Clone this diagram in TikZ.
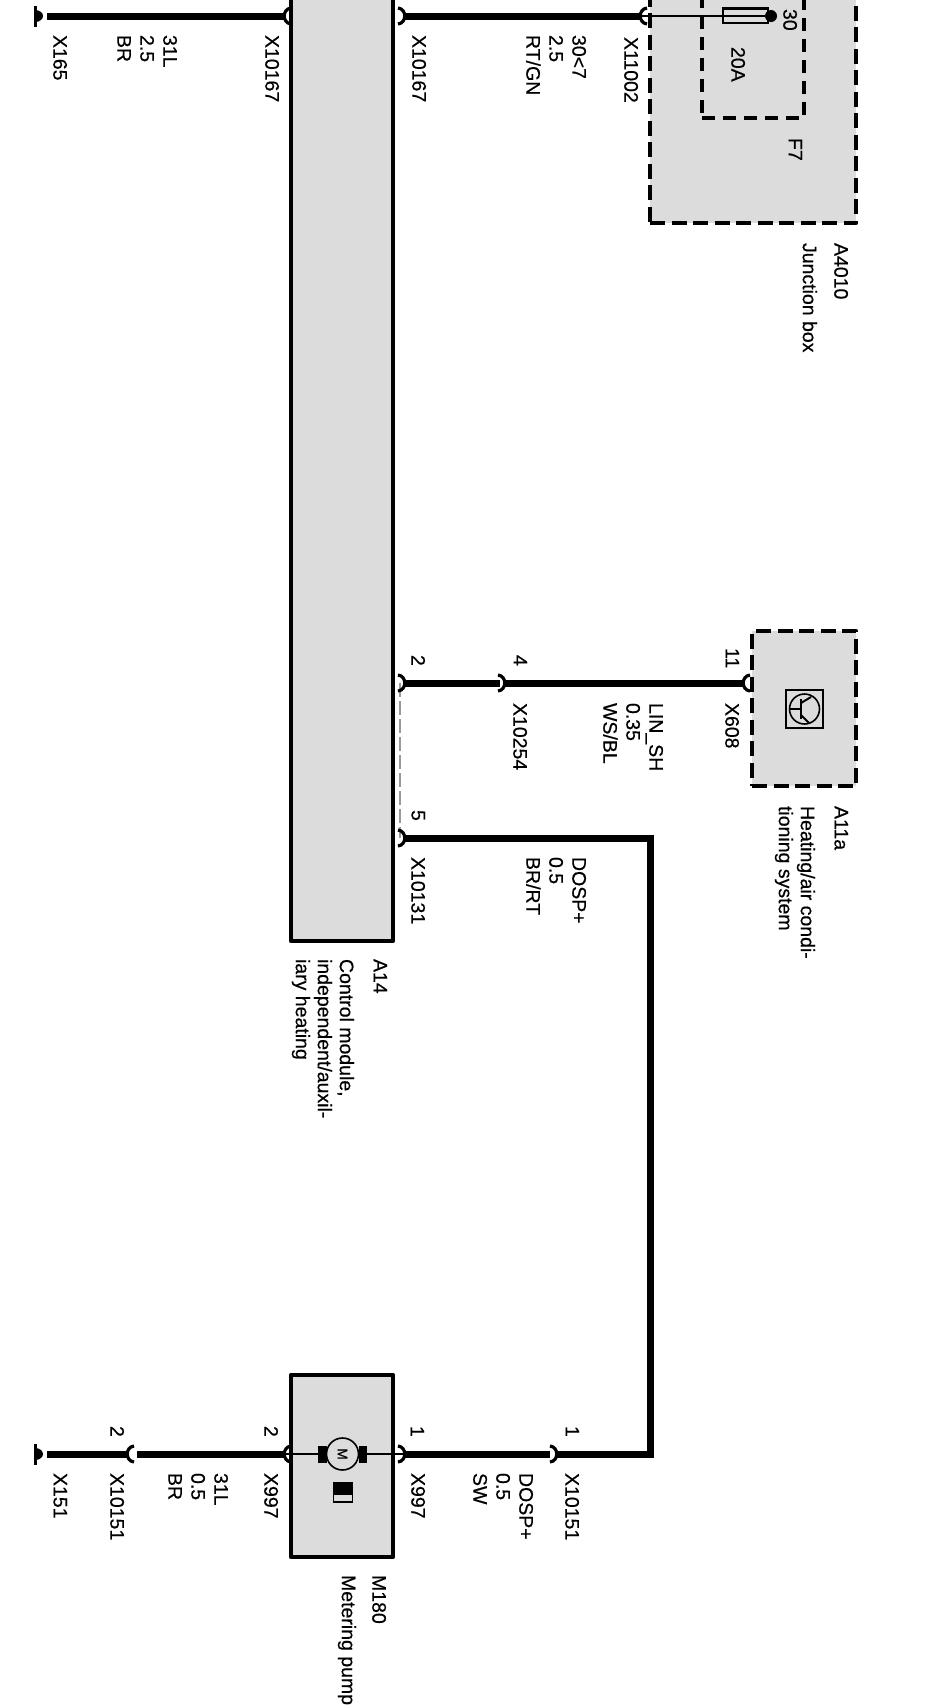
\documentclass[tikz,border=0pt]{standalone}
\usepackage{fontspec}
\setmainfont{Liberation Sans}[FakeBold=0.5]
\usetikzlibrary{calc}
\definecolor{boxgray}{HTML}{DCDCDC}
\tikzset{
  lab/.style={rotate=-90,anchor=north west,inner sep=0pt,outer sep=0pt,align=left,text=black,
    font=\fontsize{19.5}{23}\selectfont},
  labtight/.style={lab,font=\fontsize{19.5}{22}\selectfont},
  wire/.style={line width=7pt,black},
  thinwire/.style={line width=1.6pt,black},
  pinmark/.style={line width=3.2pt,black},
  solidbox/.style={draw=black,fill=boxgray,line width=4.8pt,rectangle,anchor=north west,outer sep=0pt,inner sep=0pt,line join=round},
  dashbox/.style={solidbox,dash pattern=on 15pt off 6.5pt},
  innerbox/.style={draw=black,line width=4pt,rectangle,anchor=north west,outer sep=0pt,inner sep=0pt,dash pattern=on 13pt off 8pt},
}
\newcommand{\pinmk}[4]{\coordinate (#1) at (#2,#3);
  \draw[pinmark,shift={(#1)},xscale=#4] (-7,-8) .. controls (2,-7) and (2,7) .. (-7,8);}
\newcommand{\gndmk}[3]{\coordinate (#1) at (#2,#3);
  \draw[line width=3pt,shift={(#1)}] (-2,-10) -- (-2,11);
  \fill[shift={(#1)}] (-2,-6) .. controls (3,-6) and (6,-3) .. (6,0) .. controls (6,3) and (3,6) .. (-2,6) -- cycle;}
\begin{document}
\begin{tikzpicture}[x=1pt,y=-1pt]
\useasboundingbox (0,0) rectangle (930,1706);
\clip (0,0) rectangle (930,1706);
\fill[white] (0,0) rectangle (930,1706);

% gray bridge
\coordinate (brA) at (400,683);
\coordinate (brB) at (400,838);
\draw[line width=2.6pt,draw=gray!80,dash pattern=on 14pt off 4pt] (brA) -- (brB);

% boxes
\node[solidbox,minimum width=102pt,minimum height=961pt] (a14) at (291,-20) {};
\node[dashbox,minimum width=206pt,minimum height=243pt] (a4010) at (650,-20) {};
\node[innerbox,minimum width=102pt,minimum height=138pt] (f7) at (702,-20) {};
\node[dashbox,minimum width=104pt,minimum height=155pt] (a11a) at (752,631) {};
\node[solidbox,minimum width=102pt,minimum height=182pt] (m180) at (291,1375) {};

% pins and ground
\gndmk{gndA}{37}{16}
\gndmk{gndB}{37}{1454}
\pinmk{pA}{284}{16}{-1}
\pinmk{pB}{405}{16}{1}
\pinmk{pC}{640}{16}{-1}
\pinmk{pD}{405}{683}{1}
\pinmk{pE}{505}{683}{1}
\pinmk{pF}{743}{683}{-1}
\pinmk{pG}{405}{838}{1}
\pinmk{pH}{557}{1454}{1}
\pinmk{pI}{405}{1454}{1}
\pinmk{pJ}{284}{1454}{-1}
\pinmk{pK}{127}{1454}{-1}
\coordinate (corA) at (650,838);
\coordinate (corB) at (650,1454);

% wires
\draw[wire,shorten <=10pt] (gndA) -- (pA);
\draw[wire] (pB) -- (pC);
\draw[wire,shorten >=5pt] (pD) -- (pE);
\draw[wire] (pE) -- (pF);
\draw[wire,line join=miter] (pG) -- (corA) -- (corB) -- (pH);
\draw[wire,shorten <=7pt] (pH) -- (pI);
\draw[wire,shorten >=10pt] (pJ) -- (pK);
\draw[wire,shorten <=10pt] (gndB) -- (pK);

% fuse
\node[draw=black,fill=boxgray,line width=1.6pt,rectangle,minimum width=45pt,minimum height=15pt,inner sep=0pt,outer sep=0pt,anchor=north west] (fuse) at (723,8) {};
\coordinate (fuseEnd) at (771,16);
\draw[thinwire] (pC) -- (fuseEnd);
\draw[line width=3pt] (fuse.north west) -- (fuse.north east);
\fill (fuseEnd) circle (6);

% transistor
\node[draw=black,line width=2pt,rectangle,minimum width=37pt,minimum height=38pt,inner sep=0pt,outer sep=0pt] (tr) at (804.5,709) {};
\draw[line width=1.6pt] (tr.center) circle (15);
\coordinate (trB) at (801,709);
\draw[line width=1.6pt] ($(tr.center)+(-15,0)$) -- (trB);
\draw[line width=2.4pt] (801,699) -- (801,719);
\draw[line width=2pt] (801,703) -- (811,697);
\draw[line width=2pt] (801,715) -- (809,723);

% motor
\coordinate (motL) at (322,1454);
\coordinate (motR) at (363,1454);
\draw[thinwire] (pJ) -- (motL);
\draw[thinwire] (motR) -- (pI);
\node[fill=black,rectangle,minimum width=9pt,minimum height=17pt,inner sep=0pt] (brL) at (motL) {};
\node[fill=black,rectangle,minimum width=8pt,minimum height=17pt,inner sep=0pt] (brR) at (motR) {};
\node[draw=black,fill=boxgray,line width=1.6pt,circle,minimum size=32pt,inner sep=0pt] (mot) at (342.5,1454) {};
\node[rotate=-90,inner sep=0pt,font=\fontsize{14}{14}\selectfont] (motM) at (342.5,1454) {M};
\node[draw=black,fill=boxgray,line width=1.6pt,rectangle,minimum width=19pt,minimum height=19pt,inner sep=0pt,outer sep=0pt,anchor=north west] (bat) at (333.5,1483) {};
\fill (333.5,1482) rectangle (352.5,1495);

% labels
\node[lab] (t1) at (67,35) {X165};
\node[lab] (t2) at (177,35) {31L\\2.5\\BR};
\node[lab] (t3) at (279,35) {X10167};
\node[lab] (t4) at (426,35) {X10167};
\node[lab] (t5) at (586,35) {30<7\\2.5\\RT/GN};
\node[lab] (t6) at (638,37) {X11002};
\node[lab] (t7) at (745,47) {20A};
\node[lab] (t8) at (797,9) {30};
\node[lab] (t9) at (802,138) {F7};
\node[lab] (t10) at (848,243) {A4010};
\node[lab] (t11) at (817,243) {Junction box};

\node[lab] (t12) at (425,655) {2};
\node[lab] (t13) at (527,655) {4};
\node[lab] (t14) at (739,648) {11};
\node[lab] (t15) at (527,703) {X10254};
\node[lab] (t16) at (663,703) {LIN\_SH\\0.35\\WS/BL};
\node[lab] (t17) at (739,703) {X608};
\node[lab] (t18) at (848,806) {A11a};
\node[labtight] (t19) at (815,806) {Heating/air condi-\\tioning system};
\node[lab] (t20) at (425,810) {5};
\node[lab] (t21) at (425,857) {X10131};
\node[lab] (t22) at (586,857) {DOSP+\\0.5\\BR/RT};
\node[lab] (t23) at (387,959) {A14};
\node[labtight] (t24) at (354,959) {Control module,\\independent/auxil-\\iary heating};

\node[lab] (t25) at (124,1426) {2};
\node[lab] (t26) at (278,1426) {2};
\node[lab] (t27) at (424,1426) {1};
\node[lab] (t28) at (579,1426) {1};
\node[lab] (t29) at (67,1473) {X151};
\node[lab] (t30) at (124,1473) {X10151};
\node[lab] (t31) at (228,1473) {31L\\0.5\\BR};
\node[lab] (t32) at (278,1473) {X997};
\node[lab] (t33) at (425,1473) {X997};
\node[lab] (t34) at (533,1473) {DOSP+\\0.5\\SW};
\node[lab] (t35) at (579,1473) {X10151};
\node[lab] (t36) at (386,1575) {M180};
\node[lab] (t37) at (356,1575) {Metering pump};
\end{tikzpicture}
\end{document}
